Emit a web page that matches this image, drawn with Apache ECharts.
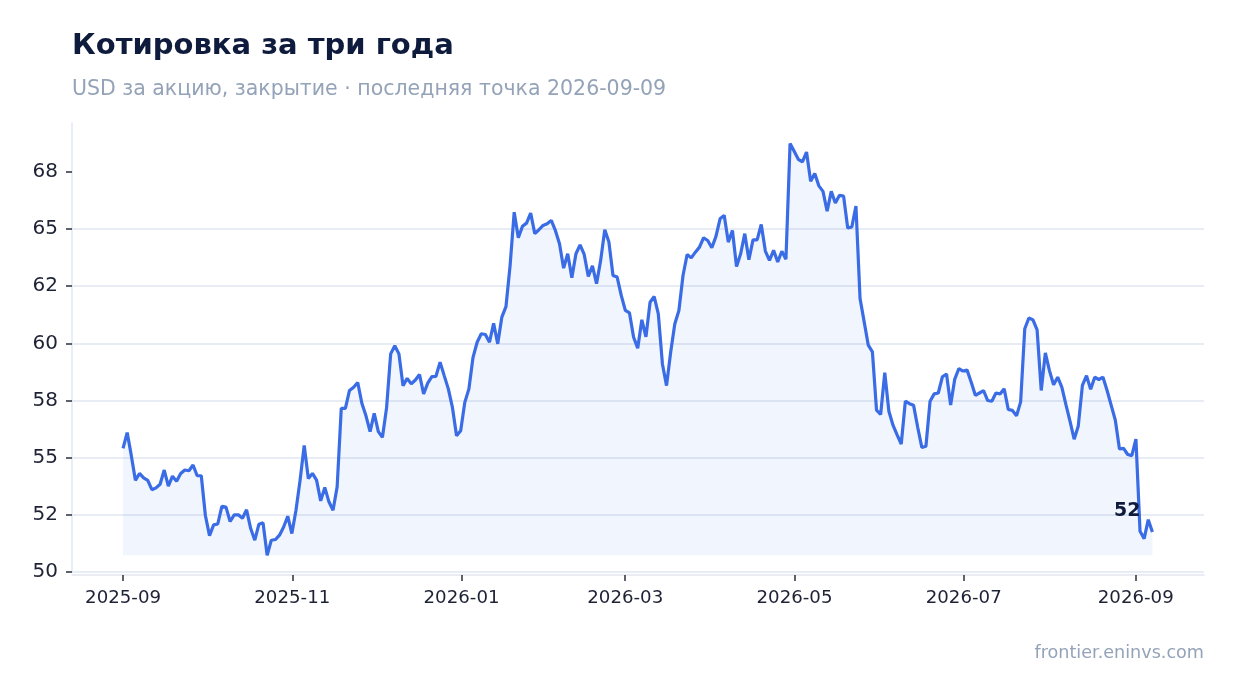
<!DOCTYPE html>
<html lang="ru">
<head>
    <meta charset="UTF-8" />
    <title>Котировка за три года</title>
    <script src="https://cdn.jsdelivr.net/npm/echarts@6.0.0/dist/echarts.min.js"></script>
    <style>
        html, body { margin: 0; padding: 0; background: #ffffff; }
        #chart { width: 1234px; height: 693px; }
    </style>
</head>
<body>
    <div id="chart"></div>
    <script>
        // first and last trading day on the chart, points are evenly spaced between them
        var startDate = "2025-09-01";
        var endDate = "2026-09-07";

        // closing price, USD
        var closes = [
            55.41, 56.10, 55.10, 54.01, 54.31, 54.12, 54.01, 53.60, 53.68, 53.84,
            54.46, 53.76, 54.19, 53.97, 54.31, 54.46, 54.43, 54.68, 54.21, 54.21,
            52.47, 51.59, 52.06, 52.10, 52.87, 52.84, 52.21, 52.50, 52.50, 52.35,
            52.72, 51.90, 51.39, 52.09, 52.15, 50.73, 51.39, 51.42, 51.61, 51.97,
            52.44, 51.68, 52.70, 54.02, 55.54, 54.09, 54.31, 54.02, 53.11, 53.70,
            53.07, 52.70, 53.73, 57.16, 57.16, 57.94, 58.08, 58.29, 57.38, 56.83,
            56.14, 56.94, 56.14, 55.89, 57.18, 59.54, 59.90, 59.54, 58.15, 58.47,
            58.23, 58.40, 58.64, 57.79, 58.26, 58.55, 58.56, 59.18, 58.59, 58.01,
            57.20, 55.96, 56.18, 57.42, 58.01, 59.39, 60.05, 60.42, 60.39, 60.05,
            60.88, 59.98, 61.15, 61.61, 63.40, 65.74, 64.62, 65.12, 65.26, 65.70,
            64.80, 64.97, 65.16, 65.23, 65.38, 64.94, 64.36, 63.29, 63.92, 62.87,
            63.92, 64.31, 63.89, 62.93, 63.39, 62.61, 63.63, 64.97, 64.43, 62.97,
            62.90, 62.10, 61.44, 61.33, 60.27, 59.79, 61.03, 60.29, 61.80, 62.05,
            61.29, 59.10, 58.15, 59.61, 60.85, 61.44, 62.97, 63.89, 63.74, 63.99,
            64.21, 64.62, 64.50, 64.18, 64.68, 65.45, 65.60, 64.43, 64.94, 63.36,
            63.92, 64.80, 63.66, 64.53, 64.53, 65.20, 64.04, 63.63, 64.07, 63.56,
            64.03, 63.68, 68.74, 68.40, 68.05, 67.94, 68.37, 67.09, 67.43, 66.89,
            66.65, 65.78, 66.65, 66.14, 66.48, 66.44, 65.05, 65.09, 66.01, 61.96,
            60.94, 59.92, 59.63, 57.08, 56.89, 58.72, 57.03, 56.42, 56.00, 55.60,
            57.47, 57.36, 57.29, 56.33, 55.45, 55.50, 57.47, 57.79, 57.83, 58.54,
            58.66, 57.30, 58.44, 58.90, 58.79, 58.83, 58.30, 57.73, 57.83, 57.93,
            57.50, 57.47, 57.83, 57.79, 58.01, 57.11, 57.07, 56.83, 57.44, 60.64,
            61.11, 61.03, 60.59, 57.94, 59.58, 58.81, 58.19, 58.52, 58.09, 57.32,
            56.59, 55.81, 56.39, 58.16, 58.59, 57.99, 58.52, 58.42, 58.52, 57.94,
            57.29, 56.64, 55.38, 55.41, 55.14, 55.09, 55.81, 51.78, 51.46, 52.29,
            51.75
        ];

        // axis ticks
        var xTickLabels = ["2025-09", "2025-11", "2026-01", "2026-03", "2026-05", "2026-07", "2026-09"];
        var yTickValues = [50, 52.5, 55, 57.5, 60, 62.5, 65, 67.5];
        var yTickLabels = ["50", "52", "55", "58", "60", "62", "65", "68"];

        var DAY = 24 * 3600 * 1000;
        function toTime(s) {
            var p = s.split("-");
            return new Date(+p[0], +p[1] - 1, p[2] ? +p[2] : 1).getTime();
        }
        var t0 = toTime(startDate);
        var t1 = toTime(endDate);
        var step = (t1 - t0) / (closes.length - 1);
        var seriesData = closes.map(function (v, i) {
            return [t0 + i * step, v];
        });
        var xTicks = xTickLabels.map(toTime);
        var lowest = Math.min.apply(null, closes);
        var last = seriesData[seriesData.length - 1];

        var mCharts = echarts.init(document.getElementById("chart"));
        var option = {
            backgroundColor: "#ffffff",
            animation: false,
            textStyle: { fontFamily: "DejaVu Sans" },
            title: {
                text: "Котировка за три года",
                subtext: "USD за акцию, закрытие · последняя точка 2026-09-09",
                left: 67,
                top: 27,
                itemGap: 18,
                textStyle: { fontSize: 29, fontWeight: "bold", color: "#0f1b3d", fontFamily: "DejaVu Sans" },
                subtextStyle: { fontSize: 20.5, color: "#94a3b8", fontFamily: "DejaVu Sans" },
            },
            graphic: [
                {
                    type: "text",
                    right: 30,
                    top: 644,
                    style: { text: "frontier.eninvs.com", font: "17.6px 'DejaVu Sans'", fill: "#94a3b8" },
                },
            ],
            grid: { left: 72, right: 30, top: 123, bottom: 121, containLabel: false, outerBoundsMode: "none" },
            xAxis: {
                type: "value",
                min: xTicks[0] - 18.4 * DAY,
                max: xTicks[xTicks.length - 1] + 24.6 * DAY,
                offset: 3,
                axisLine: { show: true, lineStyle: { color: "#e2e8f0", width: 1.5 } },
                axisTick: { show: true, length: 6, customValues: xTicks, lineStyle: { color: "#2b2f3a", width: 1.5 } },
                axisLabel: {
                    customValues: xTicks,
                    margin: 14,
                    fontSize: 18.2,
                    color: "#1e2235",
                    formatter: function (v) {
                        var i = xTicks.indexOf(v);
                        return i < 0 ? "" : xTickLabels[i];
                    },
                },
                splitLine: { show: false },
            },
            yAxis: {
                type: "value",
                min: 50,
                max: 69.64,
                interval: 2.5,
                axisLine: { show: true, lineStyle: { color: "#e2e8f0", width: 1.5 } },
                axisTick: { show: true, length: 6, customValues: yTickValues, lineStyle: { color: "#2b2f3a", width: 1.5 } },
                axisLabel: {
                    customValues: yTickValues,
                    margin: 14,
                    fontSize: 20,
                    color: "#1e2235",
                    formatter: function (v) {
                        var i = yTickValues.indexOf(+(+v).toFixed(2));
                        return i < 0 ? "" : yTickLabels[i];
                    },
                },
                splitLine: { show: true, showMaxLine: false, lineStyle: { color: "#e1e6f0", width: 1.5 } },
            },
            series: [
                {
                    type: "line",
                    data: seriesData,
                    showSymbol: false,
                    symbol: "none",
                    lineStyle: { color: "#3a6ce6", width: 3.2 },
                    areaStyle: { color: "rgba(58,108,230,0.1)", origin: lowest },
                    markPoint: {
                        symbol: "circle",
                        symbolSize: 0,
                        data: [{ coord: last }],
                        label: {
                            show: true,
                            position: "left",
                            distance: 12,
                            offset: [0, -21],
                            fontSize: 19,
                            fontWeight: "bold",
                            color: "#0f1b3d",
                            formatter: function () {
                                return String(Math.round(last[1]));
                            },
                        },
                    },
                },
            ],
        };
        mCharts.setOption(option);
    </script>
</body>
</html>
